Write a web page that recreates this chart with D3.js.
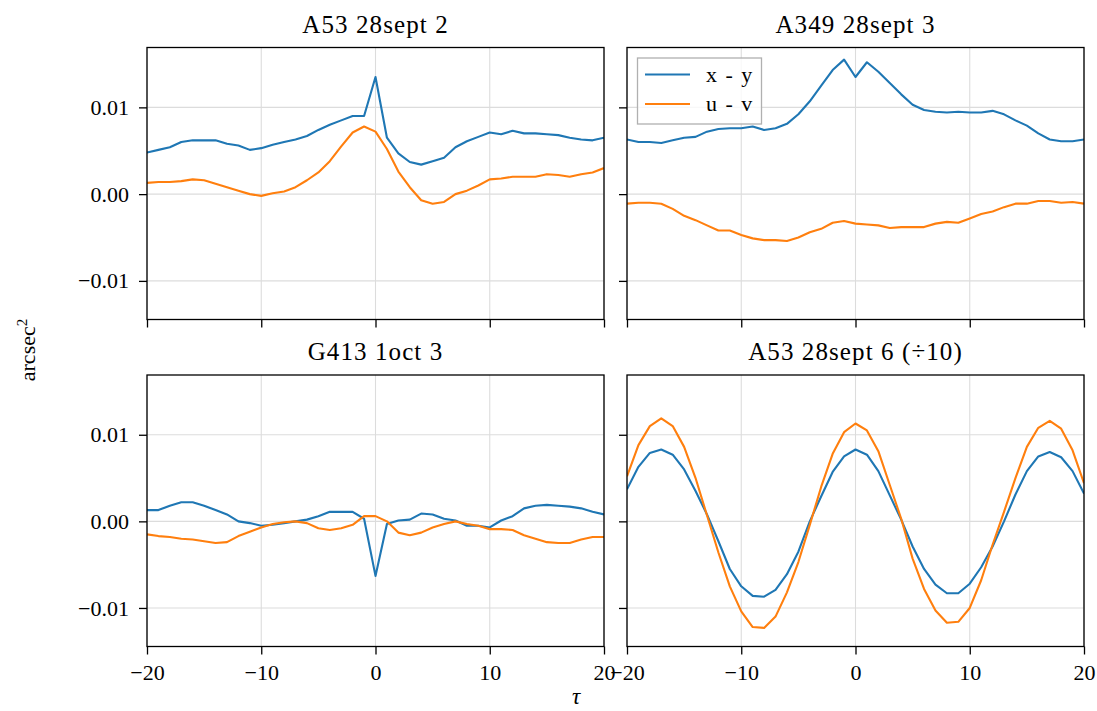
<!DOCTYPE html>
<html>
<head>
<meta charset="utf-8">
<script src="https://cdn.jsdelivr.net/npm/d3@7"></script>
<style>
  html, body { margin: 0; padding: 0; background: #fff; }
  svg { display: block; }
  text { font-family: "Liberation Serif", "Times New Roman", serif; fill: #000; }
</style>
</head>
<body>
<svg id="chart" width="1097" height="711"></svg>
<script>
// ---- data ----
const tau = d3.range(-20, 21);
const xTicks = [-20, -10, 0, 10, 20];
const yTicks = [-0.01, 0.0, 0.01];
const seriesNames = ["x - y", "u - v"];
const titles = ["A53 28sept 2", "A349 28sept 3", "G413 1oct 3", "A53 28sept 6 (\u00f710)"];

const a53s2_xy = [0.0048,0.0051,0.0054,0.0060,0.0062,0.0062,0.0062,0.0058,0.0056,0.0051,0.0053,0.0057,0.0060,0.0063,0.0067,0.0074,0.0080,0.0085,0.0090,0.0090,0.0135,
  0.0065,0.0047,0.0037,0.0034,0.0038,0.0042,0.0054,0.0061,0.0066,0.0071,0.0069,0.0073,0.0070,0.0070,0.0069,0.0068,0.0065,0.0063,0.0062,0.0065];
const a53s2_uv = [0.0013,0.0014,0.0014,0.0015,0.0017,0.0016,0.0012,0.0008,0.0004,0.0000,-0.0002,0.0001,0.0003,0.0008,0.0016,0.0025,0.0038,0.0055,0.0071,0.0078,0.0072,
  0.0052,0.0026,0.0008,-0.0007,-0.0011,-0.0009,0.0000,0.0004,0.0010,0.0017,0.0018,0.0020,0.0020,0.0020,0.0023,0.0022,0.0020,0.0023,0.0025,0.0030];

const a349s3_xy = [0.0063,0.0060,0.0060,0.0059,0.0062,0.0065,0.0066,0.0072,0.0075,0.0076,0.0076,0.0078,0.0074,0.0076,0.0081,0.0092,0.0107,0.0125,0.0143,0.0155,0.0135,
  0.0152,0.0141,0.0128,0.0115,0.0103,0.0097,0.0095,0.0094,0.0095,0.0094,0.0094,0.0096,0.0092,0.0085,0.0079,0.0070,0.0063,0.0061,0.0061,0.0063];
const a349s3_uv = [-0.0011,-0.0010,-0.0010,-0.0011,-0.0017,-0.0025,-0.0030,-0.0036,-0.0042,-0.0042,-0.0047,-0.0051,-0.0053,-0.0053,-0.0054,-0.0050,-0.0044,-0.0040,-0.0033,-0.0031,-0.0034,
  -0.0035,-0.0036,-0.0039,-0.0038,-0.0038,-0.0038,-0.0034,-0.0032,-0.0033,-0.0028,-0.0023,-0.0020,-0.0015,-0.0011,-0.0011,-0.0008,-0.0008,-0.0010,-0.0009,-0.0011];

const g413o3_xy = [0.0013,0.0013,0.0018,0.0022,0.0022,0.0018,0.0013,0.0008,0.0000,-0.0002,-0.0005,-0.0004,-0.0002,0.0000,0.0002,0.0006,0.0011,0.0011,0.0011,0.0003,-0.0063,
  -0.0003,0.0001,0.0002,0.0009,0.0008,0.0003,0.0001,-0.0005,-0.0005,-0.0007,0.0001,0.0006,0.0015,0.0018,0.0019,0.0018,0.0017,0.0015,0.0011,0.0008];
const g413o3_uv = [-0.0015,-0.0017,-0.0018,-0.0020,-0.0021,-0.0023,-0.0025,-0.0024,-0.0017,-0.0012,-0.0007,-0.0003,-0.0001,0.0000,-0.0002,-0.0008,-0.0010,-0.0008,-0.0004,0.0006,0.0006,
  0.0000,-0.0013,-0.0016,-0.0013,-0.0007,-0.0003,0.0000,-0.0003,-0.0005,-0.0009,-0.0009,-0.0010,-0.0016,-0.0020,-0.0024,-0.0025,-0.0025,-0.0021,-0.0018,-0.0018];

const a53s6_xy = [0.0037,0.0063,0.0079,0.0083,0.0077,0.0060,0.0035,0.0008,-0.0023,-0.0055,-0.0075,-0.0086,-0.0087,-0.0079,-0.0061,-0.0035,0.0000,0.0029,0.0057,0.0075,0.0083,
  0.0077,0.0058,0.0030,0.0002,-0.0029,-0.0055,-0.0073,-0.0083,-0.0083,-0.0072,-0.0053,-0.0029,0.0000,0.0031,0.0058,0.0075,0.0080,0.0074,0.0058,0.0032];
const a53s6_uv = [0.0052,0.0088,0.0110,0.0119,0.0110,0.0086,0.0050,0.0007,-0.0036,-0.0075,-0.0104,-0.0122,-0.0123,-0.0110,-0.0082,-0.0047,-0.0004,0.0040,0.0078,0.0103,0.0113,
  0.0105,0.0081,0.0042,0.0003,-0.0043,-0.0078,-0.0103,-0.0117,-0.0116,-0.0100,-0.0068,-0.0027,0.0011,0.0050,0.0086,0.0108,0.0116,0.0107,0.0082,0.0044];

const panelData = [
  [a53s2_xy, a53s2_uv],
  [a349s3_xy, a349s3_uv],
  [g413o3_xy, g413o3_uv],
  [a53s6_xy, a53s6_uv]
];

// ---- layout ----
const colors = ["#1f77b4", "#ff7f0e"];
const cols = [[147, 604], [627, 1084]];
const rows = [[47.5, 319.5], [375, 646.5]];
const yDomain = [-0.01445, 0.0169];

const svg = d3.select("#chart");
const fmtY = d3.format(".2f");
const fmtX = d3.format("d");

panelData.forEach((series, i) => {
  const r = Math.floor(i / 2), c = i % 2;
  const [x0, x1] = cols[c];
  const [y0, y1] = rows[r];
  const x = d3.scaleLinear().domain([-20, 20]).range([x0, x1]);
  const y = d3.scaleLinear().domain(yDomain).range([y1, y0]);
  const g = svg.append("g");

  // grid
  g.append("g").selectAll("line").data(xTicks).join("line")
    .attr("x1", d => x(d)).attr("x2", d => x(d)).attr("y1", y0).attr("y2", y1)
    .attr("stroke", "#dcdcdc").attr("stroke-width", 1.1);
  g.append("g").selectAll("line").data(yTicks).join("line")
    .attr("x1", x0).attr("x2", x1).attr("y1", d => y(d)).attr("y2", d => y(d))
    .attr("stroke", "#dcdcdc").attr("stroke-width", 1.1);

  // lines
  const clipId = "clip" + i;
  g.append("clipPath").attr("id", clipId).append("rect")
    .attr("x", x0).attr("y", y0).attr("width", x1 - x0).attr("height", y1 - y0);
  series.forEach((vals, k) => {
    const line = d3.line().x((d, j) => x(tau[j])).y(d => y(d));
    g.append("path").attr("d", line(vals))
      .attr("fill", "none").attr("stroke", colors[k]).attr("stroke-width", 2.1)
      .attr("stroke-linejoin", "round").attr("clip-path", `url(#${clipId})`);
  });

  // axes
  const xAxis = d3.axisBottom(x).tickValues(xTicks).tickSize(8).tickPadding(10)
    .tickFormat(r === 1 ? fmtX : () => "");
  const gx = g.append("g").attr("transform", `translate(0,${y1})`).call(xAxis);
  const yAxis = d3.axisLeft(y).tickValues(yTicks).tickSize(8).tickPadding(10)
    .tickFormat(c === 0 ? fmtY : () => "");
  const gy = g.append("g").attr("transform", `translate(${x0},0)`).call(yAxis);
  [gx, gy].forEach(ax => {
    ax.attr("font-family", null);
    ax.select(".domain").remove();
    ax.selectAll(".tick line").attr("stroke", "#000").attr("stroke-width", 1.3);
    ax.selectAll(".tick text").attr("font-size", 22).attr("fill", "#000")
      .style("font-family", '"Liberation Serif", serif');
  });
  gx.selectAll(".tick text").attr("dy", "0.71em");

  // frame
  g.append("rect").attr("x", x0).attr("y", y0).attr("width", x1 - x0).attr("height", y1 - y0)
    .attr("fill", "none").attr("stroke", "#000").attr("stroke-width", 1.3);

  // title
  g.append("text").attr("x", (x0 + x1) / 2).attr("y", y0 - 15)
    .attr("text-anchor", "middle").attr("font-size", 25)
    .style("letter-spacing", "1.1px")
    .text(titles[i]);

  // legend
  if (i === 1) {
    const lg = g.append("g");
    lg.append("rect").attr("x", 637.5).attr("y", 58).attr("width", 124).attr("height", 66)
      .attr("fill", "#fff").attr("fill-opacity", 0.8)
      .attr("stroke", "#b0b0b0").attr("stroke-width", 1.3);
    seriesNames.forEach((name, k) => {
      const ly = 74.5 + k * 29.5;
      lg.append("line").attr("x1", 645).attr("x2", 690).attr("y1", ly).attr("y2", ly)
        .attr("stroke", colors[k]).attr("stroke-width", 2.1);
      lg.append("text").attr("x", 706).attr("y", ly + 7).attr("font-size", 22)
        .style("word-spacing", "3px")
        .text(name);
    });
  }
});

// y label
svg.append("text")
  .attr("transform", "translate(35,350) rotate(-90)")
  .attr("text-anchor", "middle").attr("font-size", 22)
  .html('arcsec<tspan dy="-8" font-size="15">2</tspan>');

// x label
svg.append("text").attr("x", 576).attr("y", 704)
  .attr("text-anchor", "middle").attr("font-size", 23).attr("font-style", "italic")
  .text("\u03c4");
</script>
</body>
</html>
